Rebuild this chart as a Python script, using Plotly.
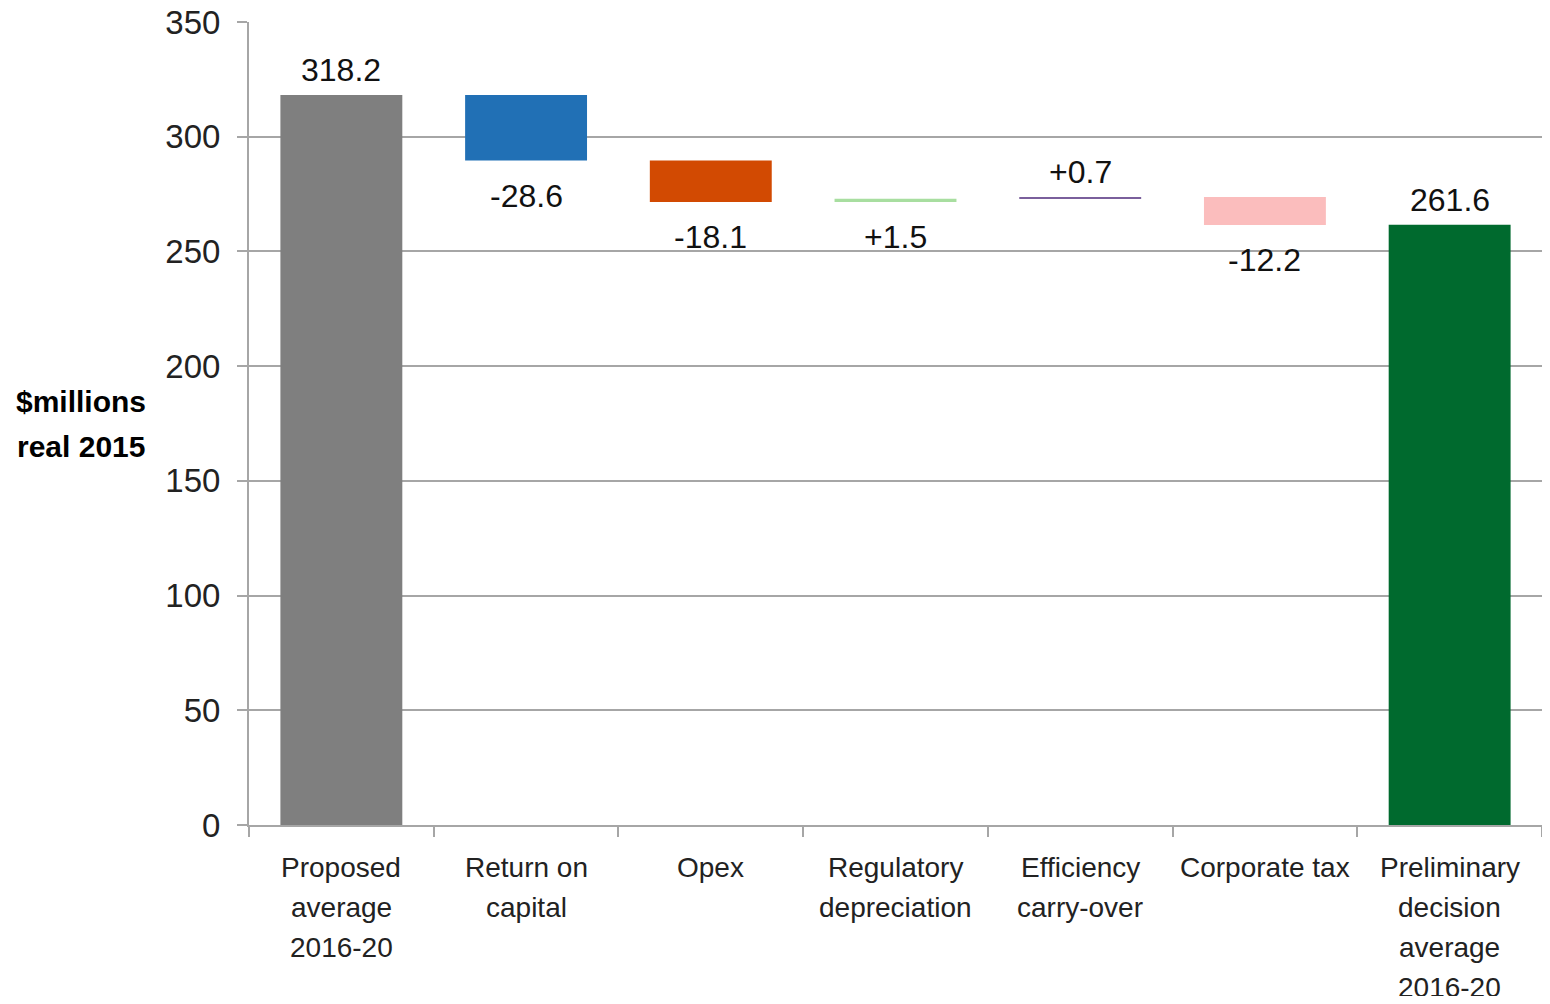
#waterfall chart

import plotly.graph_objects as go

# categories along the x axis
categories = ['Proposed<br>average<br>2016-20', 'Return on<br>capital', 'Opex',
              'Regulatory<br>depreciation', 'Efficiency<br>carry-over', 'Corporate tax',
              'Preliminary<br>decision<br>average<br>2016-20']

# values ($m real 2015); totals are full bars, the rest are steps
values = [318.2, -28.6, -18.1, 1.5, 0.7, -12.2, 261.6]
kinds = ['total', 'delta', 'delta', 'delta', 'delta', 'delta', 'total']
value_labels = ['318.2', '-28.6', '-18.1', '+1.5', '+0.7', '-12.2', '261.6']

# styling
colors = ['#7f7f7f', '#2170b5', '#d24a02', '#a8dea0', '#7a5f9c', '#fbbdbd', '#006a2e']
label_side = ['above', 'below', 'below', 'below', 'above', 'below', 'above']

# work out floating bar bases from the running total
bases = []
heights = []
running = 0
for v, k in zip(values, kinds):
    if k == 'total':
        bases.append(0)
        heights.append(v)
        running = v
    else:
        bases.append(min(running, running + v))
        heights.append(abs(v))
        running = running + v

font_name = 'Liberation Sans, Arial, sans-serif'

fig = go.Figure()
fig.add_trace(go.Bar(x=categories, y=heights, base=bases, marker_color=colors,
                     marker_line_width=0, width=0.66, showlegend=False))

# value labels above / below each bar
for cat, b, h, txt, side in zip(categories, bases, heights, value_labels, label_side):
    if side == 'above':
        fig.add_annotation(x=cat, y=b + h, text=txt, showarrow=False,
                           yanchor='middle', yshift=25)
    else:
        fig.add_annotation(x=cat, y=b, text=txt, showarrow=False,
                           yanchor='middle', yshift=-35)

# category labels, one line at a time for wider line spacing
for cat in categories:
    for i, line in enumerate(cat.split('<br>')):
        fig.add_annotation(x=cat, y=0, text=line, showarrow=False,
                           yanchor='middle', yshift=-42 - 40 * i,
                           font=dict(size=28, color='#222222'))

# y axis title
for txt, yy in [('<b>$millions</b>', 0.527), ('<b>real 2015</b>', 0.471)]:
    fig.add_annotation(xref='paper', yref='paper', x=-0.130, y=yy, text=txt,
                       showarrow=False, font=dict(size=30, color='#000000'),
                       xanchor='center', yanchor='middle')

# page body has an 8px margin, so the figure is a bit smaller than the window
fig.update_layout(
    width=1534, height=988,
    margin=dict(l=241, r=0, t=14, b=171),
    plot_bgcolor='white', paper_bgcolor='white',
    font=dict(family=font_name, size=32, color='#111111'),
    bargap=0.34,
)
fig.update_xaxes(showline=True, linecolor='#a6a6a6', linewidth=2, showticklabels=False,
                 ticks='outside', tickson='boundaries', ticklen=10, tickcolor='#a6a6a6',
                 tickwidth=2, automargin=False)
fig.update_yaxes(range=[0, 350], dtick=50, showline=True, linecolor='#a6a6a6', linewidth=2,
                 showgrid=True, gridcolor='#a6a6a6', gridwidth=2,
                 ticks='outside', ticklen=10, tickcolor='#a6a6a6', tickwidth=2,
                 ticklabelstandoff=10, ticklabeloverflow='allow',
                 tickfont=dict(size=33, color='#222222'), zeroline=False, automargin=False)

fig.write_html("out.html")
